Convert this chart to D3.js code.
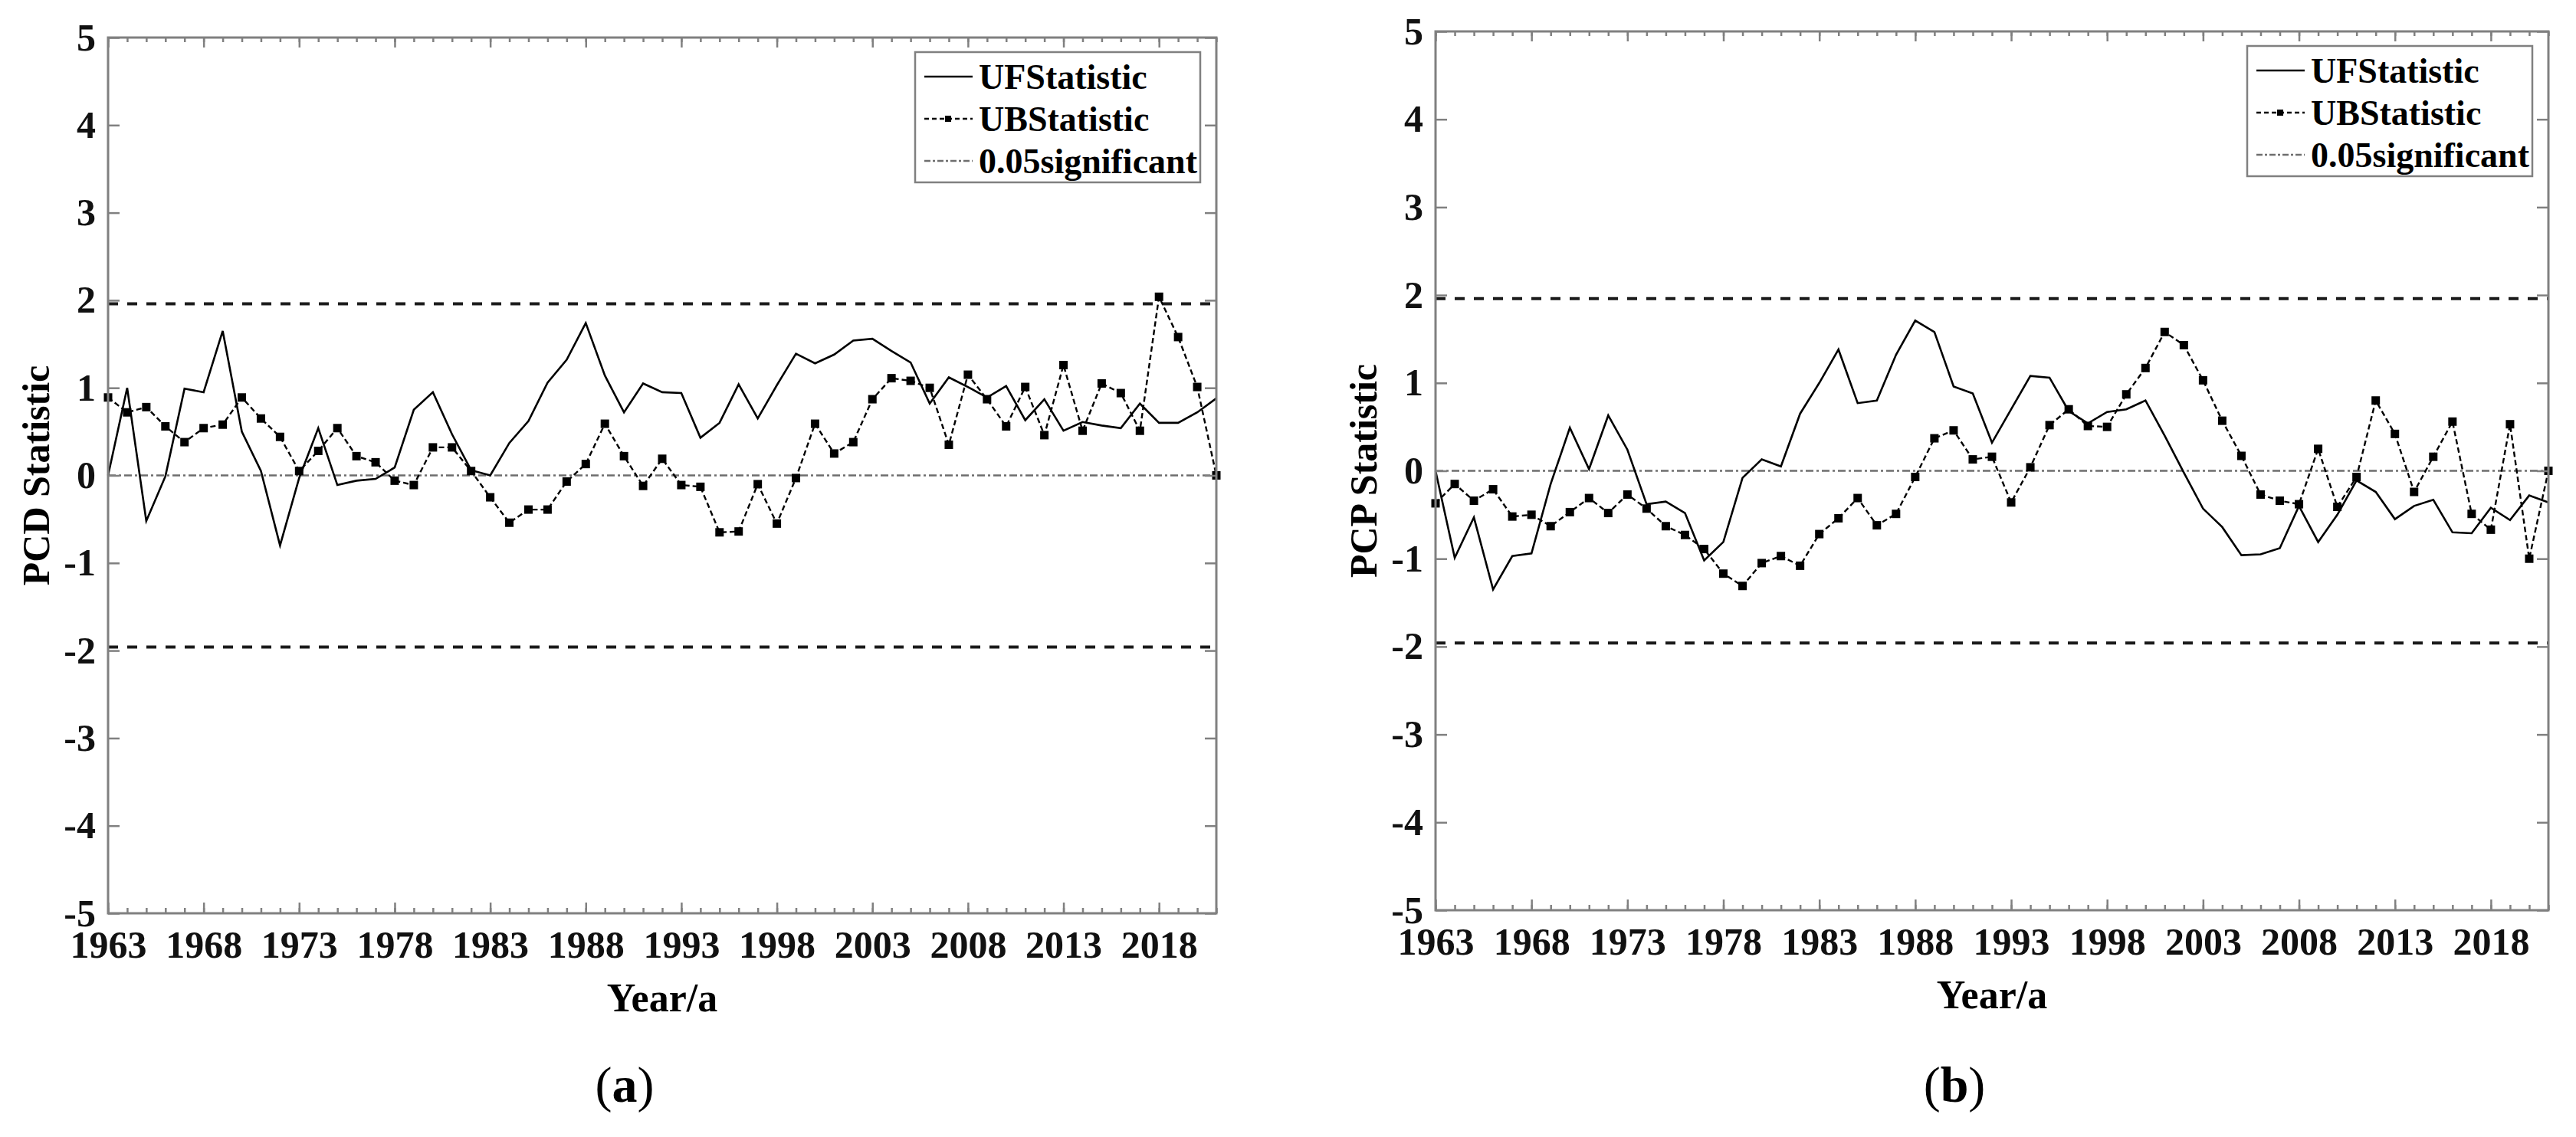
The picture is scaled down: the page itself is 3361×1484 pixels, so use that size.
<!DOCTYPE html>
<html>
<head>
<meta charset="utf-8">
<script src="https://cdn.jsdelivr.net/npm/d3@7"></script>
<style>
  body { margin: 0; background: #fff; }
</style>
</head>
<body>
<div id="chart"></div>
<script>
// years on the x axis, one value per year
const years = d3.range(1963, 2022)
const majorYears = [1963, 1968, 1973, 1978, 1983, 1988, 1993, 1998, 2003, 2008, 2013, 2018]
const yTicks = [-5, -4, -3, -2, -1, 0, 1, 2, 3, 4, 5]
const sigLevel = 1.96
const legendLabels = ["UFStatistic", "UBStatistic", "0.05significant"]

// (a) PCD
const pcdUF = [0.0, 1.0, -0.52, -0.01, 0.99, 0.95, 1.65, 0.50, 0.05, -0.80,
  -0.03, 0.54, -0.11, -0.06, -0.04, 0.09, 0.75, 0.95, 0.47, 0.06,
  0.0, 0.37, 0.62, 1.06, 1.32, 1.74, 1.14, 0.72, 1.05, 0.95,
  0.94, 0.43, 0.60, 1.04, 0.65, 1.03, 1.39, 1.28, 1.38, 1.54,
  1.56, 1.42, 1.29, 0.82, 1.12, 1.01, 0.89, 1.02, 0.63, 0.87,
  0.51, 0.61, 0.57, 0.54, 0.82, 0.60, 0.60, 0.72, 0.88]
const pcdUB = [0.89, 0.72, 0.78, 0.56, 0.38, 0.54, 0.58, 0.89, 0.65, 0.44,
  0.05, 0.28, 0.54, 0.22, 0.15, -0.06, -0.11, 0.32, 0.32, 0.05,
  -0.25, -0.54, -0.39, -0.39, -0.07, 0.13, 0.59, 0.22, -0.12, 0.19,
  -0.11, -0.13, -0.65, -0.64, -0.10, -0.55, -0.03, 0.59, 0.25, 0.38,
  0.87, 1.11, 1.08, 1.00, 0.35, 1.15, 0.87, 0.56, 1.01, 0.46,
  1.26, 0.51, 1.05, 0.94, 0.51, 2.04, 1.58, 1.01, 0.0]

// (b) PCP
const pcpUF = [0.0, -0.99, -0.53, -1.35, -0.97, -0.94, -0.15, 0.49, 0.02, 0.63,
  0.24, -0.38, -0.35, -0.48, -1.02, -0.81, -0.08, 0.13, 0.05, 0.65,
  1.0, 1.38, 0.77, 0.80, 1.32, 1.71, 1.58, 0.96, 0.88, 0.32,
  0.70, 1.08, 1.06, 0.68, 0.54, 0.67, 0.70, 0.80, 0.40, -0.02,
  -0.43, -0.64, -0.96, -0.95, -0.88, -0.40, -0.81, -0.50, -0.11, -0.24,
  -0.55, -0.40, -0.33, -0.70, -0.71, -0.42, -0.56, -0.28, -0.36]
const pcpUB = [-0.37, -0.15, -0.34, -0.21, -0.52, -0.50, -0.63, -0.47, -0.31, -0.48,
  -0.27, -0.43, -0.63, -0.73, -0.89, -1.17, -1.31, -1.05, -0.97, -1.08,
  -0.72, -0.54, -0.31, -0.62, -0.49, -0.07, 0.37, 0.46, 0.13, 0.16,
  -0.36, 0.04, 0.52, 0.70, 0.51, 0.50, 0.87, 1.17, 1.58, 1.43,
  1.03, 0.57, 0.17, -0.27, -0.34, -0.38, 0.25, -0.41, -0.07, 0.80,
  0.42, -0.24, 0.16, 0.56, -0.49, -0.67, 0.53, -1.00, 0.0]

const W = 3361, H = 1484
const FONT = "'Liberation Serif', 'Times New Roman', serif"
const AXIS_GRAY = "#808080"

const svg = d3.select("#chart").append("svg")
  .attr("width", W)
  .attr("height", H)
  .style("background", "#fff")

function styleAxis(g){
  g.select(".domain").remove()
  g.selectAll(".tick line").attr("stroke", AXIS_GRAY).attr("stroke-width", 2.5)
  g.selectAll("text")
    .attr("font-family", FONT)
    .attr("font-weight", "bold")
    .attr("font-size", 50)
    .attr("fill", "#111")
}

function drawPanel(p){
  const x = d3.scaleLinear().domain([1963, 2021]).range([p.left, p.right])
  const y = d3.scaleLinear().domain([-5, 5]).range([p.bottom, p.top])
  const g = svg.append("g")

  // significance lines +-1.96
  g.selectAll("line.sig")
    .data([sigLevel, -sigLevel])
    .enter().append("line")
    .attr("class", "sig")
    .attr("x1", p.left).attr("x2", p.right)
    .attr("y1", d => y(d)).attr("y2", d => y(d))
    .attr("stroke", "#1a1a1a")
    .attr("stroke-width", 4)
    .attr("stroke-dasharray", "13,12")

  // zero line
  g.append("line")
    .attr("x1", p.left).attr("x2", p.right)
    .attr("y1", y(0)).attr("y2", y(0))
    .attr("stroke", "#6e6e6e")
    .attr("stroke-width", 2.5)
    .attr("stroke-dasharray", "10,4,3,4")

  const line = d3.line()
    .x((d, i) => x(years[i]))
    .y(d => y(d))

  g.append("path")
    .datum(p.uf)
    .attr("d", line)
    .attr("fill", "none")
    .attr("stroke", "#000")
    .attr("stroke-width", 2.6)
    .attr("stroke-linejoin", "miter")

  g.append("path")
    .datum(p.ub)
    .attr("d", line)
    .attr("fill", "none")
    .attr("stroke", "#000")
    .attr("stroke-width", 2.4)
    .attr("stroke-dasharray", "7,4")

  g.selectAll("rect.mk")
    .data(p.ub)
    .enter().append("rect")
    .attr("class", "mk")
    .attr("x", (d, i) => x(years[i]) - 5.5)
    .attr("y", d => y(d) - 5.5)
    .attr("width", 11).attr("height", 11)
    .attr("fill", "#000")

  // axes: ticks inward on all four sides
  g.append("g")
    .attr("transform", `translate(0,${p.bottom})`)
    .call(d3.axisBottom(x).tickValues(years).tickSize(-7).tickFormat(""))
    .call(styleAxis)
  g.append("g")
    .attr("transform", `translate(0,${p.bottom})`)
    .call(d3.axisBottom(x).tickValues(majorYears).tickSize(-14).tickPadding(22).tickFormat(d3.format("d")))
    .call(styleAxis)
  g.append("g")
    .attr("transform", `translate(0,${p.top})`)
    .call(d3.axisTop(x).tickValues(years).tickSize(-6).tickFormat(""))
    .call(styleAxis)
  g.append("g")
    .attr("transform", `translate(0,${p.top})`)
    .call(d3.axisTop(x).tickValues(majorYears).tickSize(-13).tickFormat(""))
    .call(styleAxis)
  g.append("g")
    .attr("transform", `translate(${p.left},0)`)
    .call(d3.axisLeft(y).tickValues(yTicks).tickSize(-15).tickPadding(16).tickFormat(d => d < 0 ? "-" + Math.abs(d) : d))
    .call(styleAxis)
  g.append("g")
    .attr("transform", `translate(${p.right},0)`)
    .call(d3.axisRight(y).tickValues(yTicks).tickSize(-15).tickFormat(""))
    .call(styleAxis)

  g.append("rect")
    .attr("x", p.left).attr("y", p.top)
    .attr("width", p.right - p.left).attr("height", p.bottom - p.top)
    .attr("fill", "none")
    .attr("stroke", AXIS_GRAY)
    .attr("stroke-width", 3)

  // titles
  const cy = (p.top + p.bottom) / 2
  g.append("text")
    .attr("transform", `translate(${p.left - 94},${cy}) rotate(-90)`)
    .attr("text-anchor", "middle")
    .attr("dominant-baseline", "central")
    .attr("font-family", FONT).attr("font-weight", "bold").attr("font-size", 50)
    .text(p.yTitle)

  const cx = (p.left + p.right) / 2
  g.append("text")
    .attr("x", cx).attr("y", p.bottom + 128)
    .attr("text-anchor", "middle")
    .attr("font-family", FONT).attr("font-weight", "bold").attr("font-size", 52)
    .text("Year/a")

  const cap = g.append("text")
    .attr("x", cx - 49).attr("y", 1438)
    .attr("text-anchor", "middle")
    .attr("font-family", FONT).attr("font-size", 66)
  cap.append("tspan").text("(")
  cap.append("tspan").attr("font-weight", "bold").text(p.caption)
  cap.append("tspan").text(")")

  // legend
  const lw = 372, lh = 170
  const lx = p.right - 21 - lw, ly = p.top + 19
  const lg = g.append("g").attr("transform", `translate(${lx},${ly})`)
  lg.append("rect")
    .attr("width", lw).attr("height", lh)
    .attr("fill", "#fff")
    .attr("stroke", AXIS_GRAY).attr("stroke-width", 2.5)

  const rows = lg.selectAll("g.row")
    .data(legendLabels)
    .enter().append("g")
    .attr("class", "row")
    .attr("transform", (d, i) => `translate(0,${32 + i * 55})`)

  rows.append("line")
    .attr("x1", 12).attr("x2", 75)
    .attr("stroke", (d, i) => i === 2 ? "#6e6e6e" : "#000")
    .attr("stroke-width", (d, i) => i === 2 ? 2.5 : 2.4)
    .attr("stroke-dasharray", (d, i) => i === 0 ? null : i === 1 ? "6,4" : "8,3,3,3")

  rows.filter((d, i) => i === 1).append("rect")
    .attr("x", 39).attr("y", -4).attr("width", 8).attr("height", 8)
    .attr("fill", "#000")

  rows.append("text")
    .attr("x", 83)
    .attr("dy", "0.35em")
    .attr("font-family", FONT).attr("font-weight", "bold").attr("font-size", 46)
    .text(d => d)
}

drawPanel({left: 141, right: 1587, top: 49, bottom: 1192, uf: pcdUF, ub: pcdUB, yTitle: "PCD Statistic", caption: "a"})
drawPanel({left: 1873, right: 3325, top: 41, bottom: 1188, uf: pcpUF, ub: pcpUB, yTitle: "PCP Statistic", caption: "b"})
</script>
</body>
</html>
